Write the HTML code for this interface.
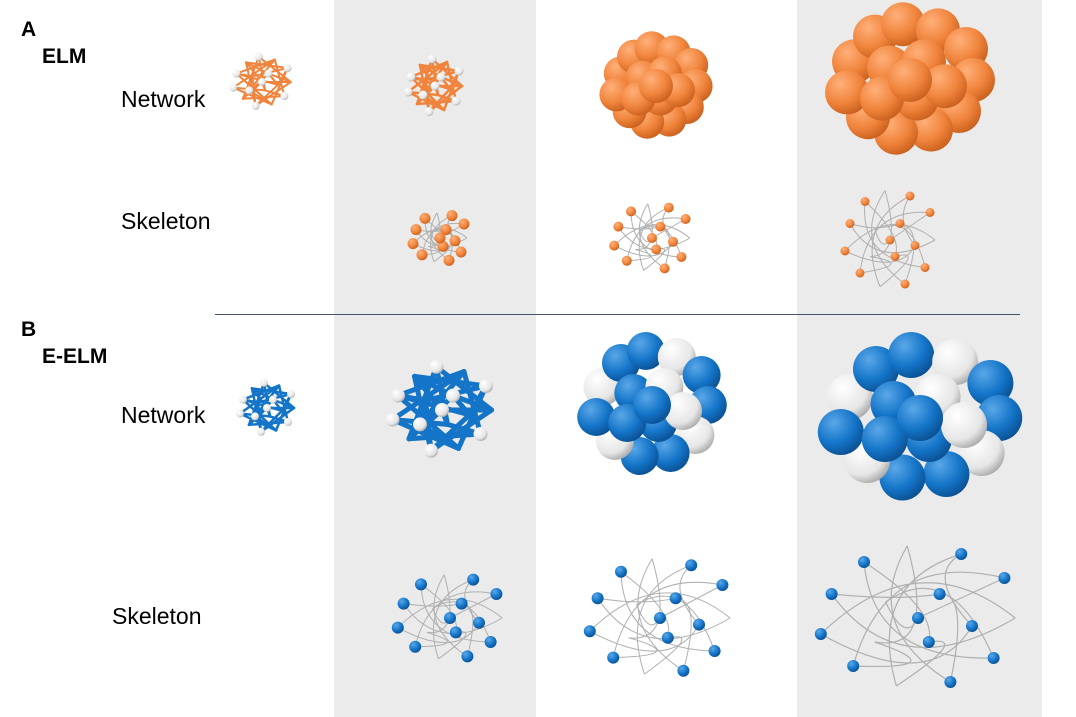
<!DOCTYPE html>
<html><head><meta charset="utf-8"><style>
html,body{margin:0;padding:0;background:#fff;}
#root{position:relative;width:1076px;height:717px;overflow:hidden;font-family:"Liberation Sans",sans-serif;}
.lbl{position:absolute;font-size:23px;color:#000;}
.b{font-weight:bold;font-size:21px;}
</style></head><body>
<div id="root">
<svg width="1076" height="717" style="position:absolute;left:0;top:0">
<defs>
<radialGradient id="og" cx="35%" cy="30%" r="75%"><stop offset="0" stop-color="#ffb07a"/><stop offset="0.6" stop-color="#f0843c"/><stop offset="1" stop-color="#c85f1c"/></radialGradient>
<radialGradient id="bg" cx="35%" cy="30%" r="75%"><stop offset="0" stop-color="#5aa8e8"/><stop offset="0.6" stop-color="#1474c8"/><stop offset="1" stop-color="#0a4f90"/></radialGradient>
<radialGradient id="wg" cx="35%" cy="30%" r="75%"><stop offset="0" stop-color="#ffffff"/><stop offset="0.7" stop-color="#e6e6e6"/><stop offset="1" stop-color="#a8a8a8"/></radialGradient>
</defs>
<rect x="334" y="0" width="202" height="717" fill="#ebebeb"/>
<rect x="797" y="0" width="245" height="717" fill="#ebebeb"/>
<line x1="215" y1="314.5" x2="1020" y2="314.5" stroke="#44546a" stroke-width="1"/>
<g id="art"></g>
</svg>
<div class="lbl b" style="left:21px;top:18px">A</div>
<div class="lbl b" style="left:42px;top:45px">ELM</div>
<div class="lbl" style="left:121px;top:86px">Network</div>
<div class="lbl" style="left:121px;top:208px">Skeleton</div>
<div class="lbl b" style="left:21px;top:318px">B</div>
<div class="lbl b" style="left:42px;top:345px">E-ELM</div>
<div class="lbl" style="left:121px;top:402px">Network</div>
<div class="lbl" style="left:112px;top:603px">Skeleton</div>
</div>
<script>
const NS="http://www.w3.org/2000/svg";
const art=document.getElementById('art');
const pts=[[-.8,-.3],[-.5,-.7],[-.1,-.9],[.4,-.8],[.8,-.5],[.9,0],[.7,.5],[.3,.8],[-.2,.85],[-.6,.6],[-.9,.2],[-.3,-.2],[.2,-.3],[.1,.3],[-.4,.3],[.5,.1],[0,0]];
// name, cx, cy, rx, ry, type, ball radius (px), line width
const blobs=[
 ["elm-net-1",262,82,32,28,"onet",4,2],
 ["elm-net-2",435,86,30,30,"onet",4.5,2.5],
 ["elm-net-3",656,86,44,42,"osolid",17,0],
 ["elm-net-4",910,80,70,62,"osolid",22,0],
 ["elm-skel-2",440,238,30,28,"oskel",5.5,1],
 ["elm-skel-3",652,238,42,38,"oskel",5,1],
 ["elm-skel-4",890,240,50,55,"oskel",4.5,1],
 ["eelm-net-1",267,408,30,28,"bnet",4,2.5],
 ["eelm-net-2",442,410,55,48,"bnet",7,5],
 ["eelm-net-3",652,405,62,60,"bsolid",19,0],
 ["eelm-net-4",920,418,88,70,"bsolid",23,0],
 ["eelm-skel-2",450,618,58,48,"bskel",6,1],
 ["eelm-skel-3",660,618,78,66,"bskel",6,1],
 ["eelm-skel-4",918,618,108,80,"bskel",6,1.2]
];
function el(t,a,p){const e=document.createElementNS(NS,t);for(const k in a)e.setAttribute(k,a[k]);(p||art).appendChild(e);return e;}
blobs.forEach(b=>{
 const [name,cx,cy,rx,ry,type,r,lw]=b;
 const g=el('g',{});
 
 
 const col=type[0]==='o'?'#f0843c':'#1474c8';
 const grad=type[0]==='o'?'url(#og)':'url(#bg)';
 const kind=type.slice(1);
 const P=pts.map(p=>[cx+p[0]*rx,cy+p[1]*ry]);
 if(kind==='net'){
  for(let i=0;i<P.length;i++)for(let j=i+3;j<P.length;j+=4)el('line',{x1:P[i][0],y1:P[i][1],x2:P[j][0],y2:P[j][1],stroke:col,'stroke-width':lw,'stroke-linecap':'round'},g);
  P.forEach((p,i)=>{if(i%2===0)el('circle',{cx:p[0],cy:p[1],r:r,fill:'url(#wg)'},g);});
 } else if(kind==='solid'){
  P.forEach((p,i)=>{el('circle',{cx:p[0],cy:p[1],r:r,fill:(type[0]==='b'&&i%3===0)?'url(#wg)':grad},g);});
 } else {
  for(let i=0;i<P.length;i++){const a=P[i],c=P[(i+5)%P.length];
   el('path',{d:`M${a[0]},${a[1]} Q${cx+(a[1]-cy)*0.8},${cy-(a[0]-cx)*0.8} ${c[0]},${c[1]}`,fill:'none',stroke:'#b0b0b0','stroke-width':lw},g);}
  P.forEach((p,i)=>{if(i%3!==2)el('circle',{cx:p[0],cy:p[1],r:r,fill:grad},g);});
 }
});
</script>
</body></html>
